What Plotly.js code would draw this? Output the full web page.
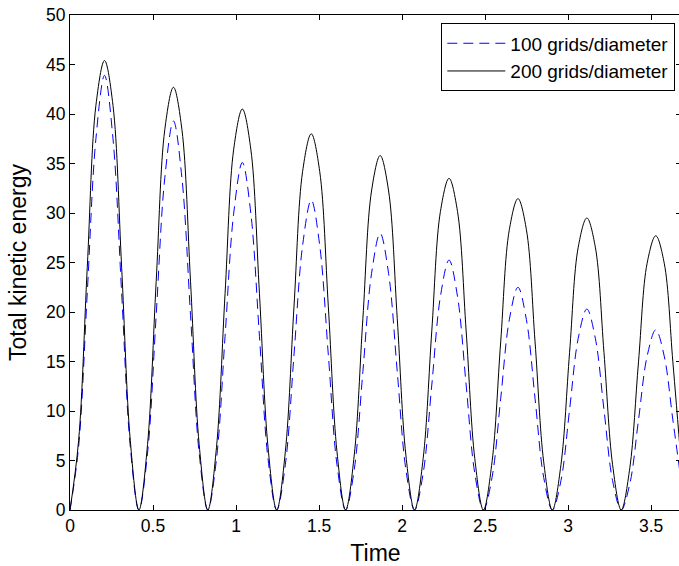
<!DOCTYPE html>
<html>
<head>
<meta charset="utf-8">
<script src="https://cdn.plot.ly/plotly-3.0.1.min.js"></script>
<style>
html, body { margin: 0; padding: 0; overflow: hidden; background: #fff; }
#chart { width: 681px; height: 566px; }
</style>
</head>
<body>
<div id="chart"></div>
<script>
// Time samples (s)
const time = [
  0, 0.052, 0.104, 0.156, 0.208, 0.259, 0.311, 0.363,
  0.415, 0.467, 0.519, 0.571, 0.623, 0.674, 0.726, 0.778,
  0.830, 0.882, 0.934, 0.986, 1.038, 1.089, 1.141, 1.193,
  1.245, 1.297, 1.349, 1.401, 1.453, 1.504, 1.556, 1.608,
  1.660, 1.712, 1.764, 1.816, 1.868, 1.919, 1.971, 2.023,
  2.075, 2.127, 2.179, 2.231, 2.283, 2.334, 2.386, 2.438,
  2.490, 2.542, 2.594, 2.646, 2.698, 2.749, 2.801, 2.853,
  2.905, 2.957, 3.009, 3.061, 3.113, 3.164, 3.216, 3.268,
  3.320, 3.372, 3.424, 3.476, 3.528, 3.579, 3.631, 3.683
];

// Total kinetic energy, 100 grids/diameter (dashed blue)
const ke100 = [
  0, 6.41, 21.95, 37.49, 43.9, 37.49, 21.95, 6.41,
  0, 5.74, 19.65, 33.56, 39.3, 33.56, 19.65, 5.74,
  0, 5.12, 17.55, 29.98, 35.1, 29.98, 17.55, 5.12,
  0, 4.57, 15.65, 26.73, 31.3, 26.73, 15.65, 4.57,
  0, 4.08, 13.98, 23.87, 27.95, 23.87, 13.98, 4.08,
  0, 3.69, 12.63, 21.56, 25.25, 21.56, 12.63, 3.69,
  0, 3.29, 11.25, 19.22, 22.5, 19.22, 11.25, 3.29,
  0, 2.96, 10.15, 17.34, 20.3, 17.34, 10.15, 2.96,
  0, 2.66, 9.1, 15.54, 18.2, 15.54, 9.1, 2.66
];

// Total kinetic energy, 200 grids/diameter (solid black)
const ke200 = [
  0, 7.04, 24.52, 40.86, 45.4, 40.86, 24.52, 7.04,
  0, 6.62, 23.06, 38.43, 42.7, 38.43, 23.06, 6.62,
  0, 6.28, 21.87, 36.45, 40.5, 36.45, 21.87, 6.28,
  0, 5.89, 20.52, 34.2, 38.0, 34.2, 20.52, 5.89,
  0, 5.55, 19.33, 32.22, 35.8, 32.22, 19.33, 5.55,
  0, 5.19, 18.09, 30.15, 33.5, 30.15, 18.09, 5.19,
  0, 4.87, 16.98, 28.31, 31.45, 28.31, 16.98, 4.87,
  0, 4.57, 15.93, 26.55, 29.5, 26.55, 15.93, 4.57,
  0, 4.29, 14.96, 24.93, 27.7, 24.93, 14.96, 4.29
];

const seriesNames = ['100 grids/diameter', '200 grids/diameter'];
const xTicks = [0, 0.5, 1, 1.5, 2, 2.5, 3, 3.5];
const xTickText = ['0', '0.5', '1', '1.5', '2', '2.5', '3', '3.5'];
const yTicks = [0, 5, 10, 15, 20, 25, 30, 35, 40, 45, 50];

const FONT = 'Liberation Sans, Arial, Helvetica, sans-serif';

const traces = [
  {
    x: time, y: ke100, name: seriesNames[0], type: 'scatter', mode: 'lines',
    line: { color: '#0000ff', width: 1, dash: '10px,6px', shape: 'spline', smoothing: 1 }
  },
  {
    x: time, y: ke200, name: seriesNames[1], type: 'scatter', mode: 'lines',
    line: { color: '#000000', width: 1, shape: 'spline', smoothing: 1 }
  }
];

const axisCommon = {
  showline: true, linecolor: '#000', linewidth: 1, mirror: 'ticks',
  ticks: 'inside', ticklen: 5, tickwidth: 1, tickcolor: '#000',
  showgrid: false, zeroline: false,
  tickfont: { family: FONT, size: 17.5, color: '#000' }
};

const layout = {
  width: 681, height: 566,
  margin: { l: 70, r: 0, t: 15, b: 56 },
  paper_bgcolor: '#fff', plot_bgcolor: '#fff',
  font: { family: FONT, color: '#000' },
  xaxis: Object.assign({}, axisCommon, {
    range: [0, 3.68], tickvals: xTicks, ticktext: xTickText,
    title: { text: 'Time', font: { family: FONT, size: 23, color: '#000' }, standoff: 10 }
  }),
  yaxis: Object.assign({}, axisCommon, {
    range: [0, 50], tickvals: yTicks,
    title: { text: 'Total kinetic energy', font: { family: FONT, size: 23, color: '#000' }, standoff: 12 }
  }),
  showlegend: true,
  legend: {
    x: 0.9907, xanchor: 'right', y: 0.983, yanchor: 'top',
    bgcolor: '#fff', bordercolor: '#000', borderwidth: 1,
    font: { family: FONT, size: 19, color: '#000' },
    itemwidth: 58,
    tracegroupgap: 0
  }
};

Plotly.newPlot('chart', traces, layout, { staticPlot: true, displayModeBar: false });
</script>
</body>
</html>
